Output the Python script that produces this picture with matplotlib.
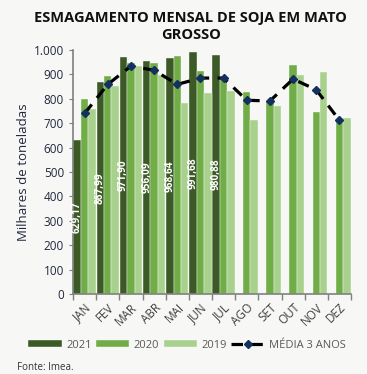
import numpy as np
import matplotlib.pyplot as plt
from matplotlib.ticker import FuncFormatter

# Monthly soybean crushing, Mato Grosso (thousand tonnes)
months = ["JAN", "FEV", "MAR", "ABR", "MAI", "JUN", "JUL", "AGO", "SET", "OUT", "NOV", "DEZ"]
y2021 = [629.17, 867.99, 971.90, 956.09, 968.64, 991.68, 980.88]
y2020 = [798, 893, 948, 948, 976, 914, 881, 827, 791, 937, 745, 712]
y2019 = [757, 852, 936, 898, 784, 825, 832, 713, 770, 898, 908, 721]
media = [740, 859, 934, 917, 859, 885, 885, 794, 791, 881, 837, 712]

bg = "#f7f7f5"
c2021 = "#3c5a26"
c2020 = "#70ad47"
c2019 = "#a9d18e"

plt.rcParams["font.family"] = ["Open Sans", "DejaVu Sans"]

fig = plt.figure(figsize=(3.67, 3.74), dpi=100, facecolor=bg)
ax = fig.add_axes([73 / 367, 1 - 294 / 374, 278 / 367, 244 / 374], facecolor=bg)

x = np.arange(len(months))
w = 0.32

b21 = ax.bar(x[:len(y2021)] - w, y2021, width=w, color=c2021, label="2021",
             edgecolor=bg, linewidth=0.3)
b20 = ax.bar(x, y2020, width=w, color=c2020, label="2020", edgecolor=bg, linewidth=0.3)
b19 = ax.bar(x + w, y2019, width=w, color=c2019, label="2019", edgecolor=bg, linewidth=0.3)

ln, = ax.plot(x, media, color="black", linewidth=2.3, dashes=(3.6, 2.6),
              marker="D", markersize=4.5, markerfacecolor="#13305e",
              markeredgecolor="#13305e", label="MÉDIA 3 ANOS")

# value labels inside the 2021 bars
for xi, v in zip(x, y2021):
    ax.text(xi - w, v / 2, f"{v:.2f}".replace(".", ","), rotation=90,
            ha="center", va="center", color="white", fontsize=7.2,
            fontweight="bold")

ax.set_xlim(-0.5, 11.5)
ax.set_ylim(0, 1000)
ax.set_yticks(np.arange(0, 1001, 100))
ax.yaxis.set_major_formatter(FuncFormatter(lambda v, p: f"{int(v):,}".replace(",", ".")))

ax.set_xticks(x)
ax.set_xticklabels(months, rotation=45, ha="right", rotation_mode="anchor",
                   fontsize=8.5, color="#404040")
ax.set_xticks(np.arange(-0.5, 12, 1), minor=True)
ax.tick_params(axis="x", which="major", length=0, pad=5)
ax.tick_params(axis="x", which="minor", length=4, color="#7f7f7f", width=1)
ax.tick_params(axis="y", length=3, color="#7f7f7f", labelsize=8.5,
               labelcolor="#22283f")

for s in ["top", "right"]:
    ax.spines[s].set_visible(False)
for s in ["left", "bottom"]:
    ax.spines[s].set_color("#7f7f7f")
    ax.spines[s].set_linewidth(1.2)

ax.set_ylabel("Milhares de toneladas", fontsize=9.5, color="#22283f", labelpad=3)

fig.text(0.52, 0.929, "ESMAGAMENTO MENSAL DE SOJA EM MATO\nGROSSO", ha="center",
         va="center", fontsize=10.5, fontweight="bold", color="#111111",
         linespacing=1.3)

ax.legend([b21, b20, b19, ln], ["2021", "2020", "2019", "MÉDIA 3 ANOS"],
          loc="center", bbox_to_anchor=(0.41, -0.21), ncol=4,
          frameon=False, fontsize=8, labelcolor="#595959",
          handlelength=3.0, handleheight=0.6, columnspacing=0.4,
          handletextpad=0.4)

fig.text(17 / 367, 1 - 367 / 374, "Fonte: Imea.", fontsize=7, color="#333333",
         va="center")

fig.savefig("out.png", dpi=100, facecolor=bg)
